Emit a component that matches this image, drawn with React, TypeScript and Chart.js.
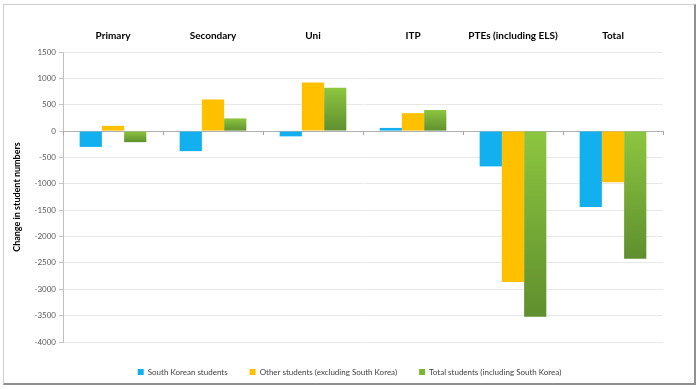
import React, { useEffect, useRef } from "react";
import { Chart, registerables } from "chart.js";

Chart.register(...registerables);

const categories = ["Primary", "Secondary", "Uni", "ITP", "PTEs (including ELS)", "Total"];
const southKorean = [-300, -380, -100, 60, -670, -1440];
const otherStudents = [100, 600, 920, 340, -2860, -970];
const totalStudents = [-210, 240, 820, 400, -3520, -2420];
const seriesLabels = [
  "South Korean students",
  "Other students (excluding South Korea)",
  "Total students (including South Korea)",
];
const yMin = -4000;
const yMax = 1500;
const yStep = 500;

const FONT = "Lato, 'Open Sans', sans-serif";

function greenFill(ctx: any) {
  const chart = ctx.chart;
  const area = chart.chartArea;
  if (!area || ctx.type !== "data") return "#8cc63f";
  const y = chart.scales.y;
  const v = ctx.raw as number;
  const p0 = y.getPixelForValue(0);
  const p1 = y.getPixelForValue(v);
  const top = Math.min(p0, p1);
  const bot = Math.max(p0, p1);
  const g = chart.ctx.createLinearGradient(0, top, 0, bot + 0.01);
  g.addColorStop(0, "#8dc640");
  g.addColorStop(1, "#5f8f2e");
  return g;
}

const zeroTicks = {
  id: "zeroTicks",
  afterDatasetsDraw(chart: any) {
    const x = chart.scales.x;
    const y = chart.scales.y;
    const c = chart.ctx;
    const y0 = y.getPixelForValue(0);
    c.save();
    c.strokeStyle = "#a6a6a6";
    c.lineWidth = 1;
    for (let i = 0; i <= categories.length; i++) {
      const px = Math.round(x.getPixelForValue(i - 0.5)) + 0.5;
      c.beginPath();
      c.moveTo(px, y0);
      c.lineTo(px, y0 + 4);
      c.stroke();
    }
    c.restore();
  },
};

const legendShift = {
  id: "legendShift",
  afterLayout(chart: any) {
    const lg = chart.legend;
    if (!lg) return;
    lg.left += 12;
    lg.right += 12;
    lg.top += 4;
    lg.bottom += 4;
  },
};

export default function App() {
  const ref = useRef<HTMLCanvasElement | null>(null);
  useEffect(() => {
    document.body.style.margin = "0";
    const canvas = ref.current!;
    const chart = new Chart(canvas, {
      type: "bar",
      data: {
        labels: categories,
        datasets: [
          { label: seriesLabels[0], data: southKorean, backgroundColor: "#12b0ee", borderWidth: 0 },
          { label: seriesLabels[1], data: otherStudents, backgroundColor: "#ffc000", borderWidth: 0 },
          { label: seriesLabels[2], data: totalStudents, backgroundColor: greenFill as any, borderWidth: 0 },
        ],
      },
      options: {
        animation: false,
        responsive: false,
        maintainAspectRatio: false,
        layout: { padding: { left: 12, top: 0, right: 37, bottom: 7 } },
        datasets: { bar: { categoryPercentage: 0.667, barPercentage: 1 } },
        plugins: {
          legend: {
            position: "bottom",
            labels: {
              boxWidth: 6,
              boxHeight: 6,
              padding: 22,
              color: "#404040",
              font: { family: FONT, size: 8 },
              generateLabels: (ch: any) =>
                ch.data.datasets.map((d: any, i: number) => ({
                  text: d.label,
                  fillStyle: ["#12b0ee", "#ffc000", "#7bb536"][i],
                  strokeStyle: "rgba(0,0,0,0)",
                  lineWidth: 0,
                  hidden: false,
                  datasetIndex: i,
                  fontColor: "#404040",
                })),
            },
          },
          tooltip: { enabled: false },
        },
        scales: {
          x: {
            position: "top",
            grid: { display: false },
            border: { display: false },
            ticks: {
              color: "#000",
              font: { family: FONT, size: 10, weight: "bold" },
              padding: 2,
              maxRotation: 0,
              autoSkip: false,
            },
            afterFit: (s: any) => {
              s.height = 52;
            },
          },
          y: {
            min: yMin,
            max: yMax,
            ticks: {
              stepSize: yStep,
              color: "#595959",
              font: { family: FONT, size: 8 },
              padding: 3,
              callback: (v: any) => String(v),
            },
            grid: {
              color: (c: any) => (c.tick && c.tick.value === 0 ? "#b0b0b0" : "#e8e8e8"),
              tickColor: "#c8c8c8",
              tickLength: 4,
            },
            border: { display: true, color: "#c0c0c0" },
            title: {
              display: true,
              text: "Change in student numbers",
              color: "#000",
              font: { family: FONT, size: 9, weight: "bold" },
              padding: 0,
            },
            afterFit: (s: any) => {
              s.width = 51;
            },
          },
        },
      },
      plugins: [zeroTicks, legendShift],
    });
    return () => chart.destroy();
  }, []);

  return (
    <div style={{ position: "relative", width: 700, height: 389, background: "#fff" }}>
      <canvas ref={ref} width={700} height={389} style={{ position: "absolute", left: 0, top: 0 }} />
      <div
        style={{
          position: "absolute",
          left: 3,
          top: 4,
          width: 690,
          height: 378,
          borderTop: "1px solid #cfcfcf",
          borderLeft: "1px solid #cfcfcf",
          borderRight: "2px solid #8f8f8f",
          borderBottom: "2px solid #8f8f8f",
          pointerEvents: "none",
        }}
      />
    </div>
  );
}
